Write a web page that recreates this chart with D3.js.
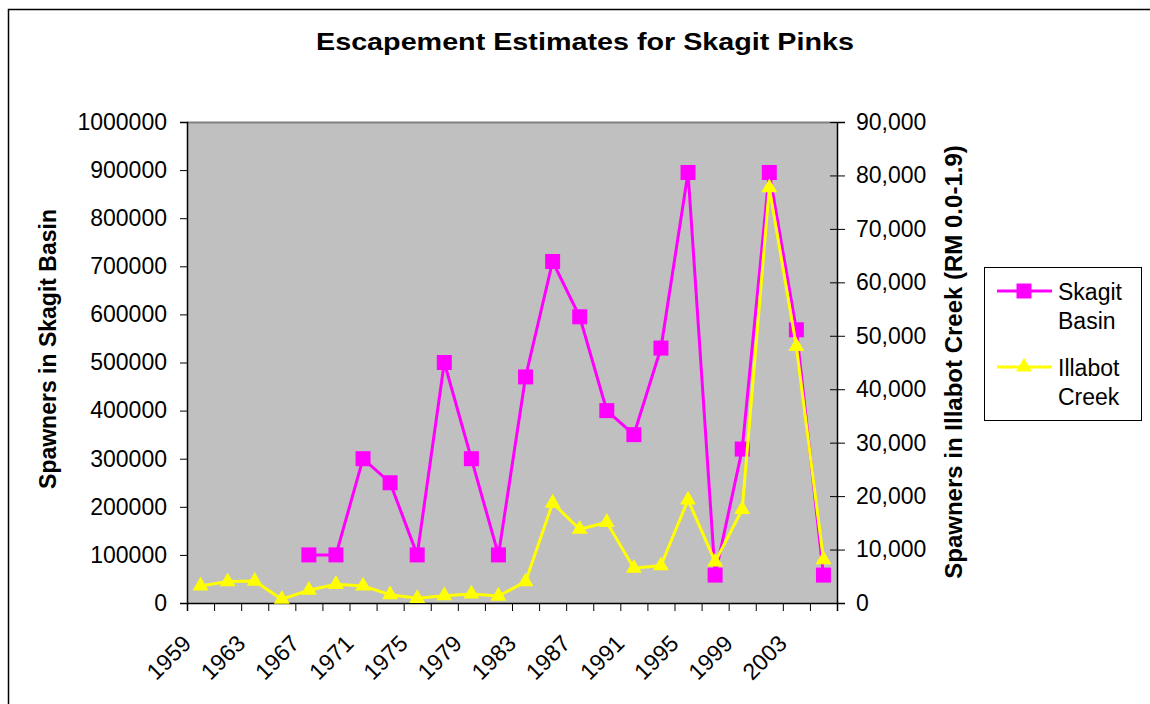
<!DOCTYPE html>
<html>
<head>
<meta charset="utf-8">
<script src="https://cdn.jsdelivr.net/npm/d3@7"></script>
<style>
  body { margin: 0; background: #fff; }
  svg { display: block; }
  text { font-family: "Liberation Sans", Arial, sans-serif; fill: #000; }
</style>
</head>
<body>
<svg id="chart" width="1150" height="704"></svg>
<script>
// Pink salmon run years (odd years only)
const years = [1959, 1961, 1963, 1965, 1967, 1969, 1971, 1973, 1975, 1977, 1979, 1981,
               1983, 1985, 1987, 1989, 1991, 1993, 1995, 1997, 1999, 2001, 2003, 2005];

// Spawners in the Skagit Basin (left axis)
const skagit = [null, null, null, null, 100000, 100000, 300000, 250000, 100000, 500000, 300000, 100000,
                470000, 710000, 595000, 400000, 350000, 530000, 895000, 58000, 320000, 895000, 568000, 58000];

// Spawners in Illabot Creek, RM 0.0-1.9 (right axis)
const illabot = [3200, 4000, 4100, 700, 2400, 3500, 3200, 1550, 870, 1370, 1680, 1300,
                 4000, 18700, 13800, 15100, 6500, 7000, 19300, 7700, 17500, 77700, 48000, 8100];

const leftTicks = [0, 100000, 200000, 300000, 400000, 500000, 600000, 700000, 800000, 900000, 1000000];
const rightTicks = [0, 10000, 20000, 30000, 40000, 50000, 60000, 70000, 80000, 90000];
const yearLabels = years.filter((d, i) => i % 2 === 0);

const seriesNames = ["Skagit Basin", "Illabot Creek"];

const svg = d3.select("#chart");
const plot = { left: 187, right: 837, top: 122, bottom: 603 };

// outer chart frame
svg.append("rect")
  .attr("x", 8.5).attr("y", 9.5)
  .attr("width", 1200).attr("height", 800)
  .attr("fill", "none").attr("stroke", "#000").attr("stroke-width", 1.5);

const x = d3.scaleBand().domain(years).range([plot.left, plot.right]);
const xEdge = d3.scaleLinear().domain([0, years.length]).range([plot.left, plot.right]);
const yL = d3.scaleLinear().domain([0, 1000000]).range([plot.bottom, plot.top]);
const yR = d3.scaleLinear().domain([0, 90000]).range([plot.bottom, plot.top]);

// plot area
svg.append("rect")
  .attr("x", plot.left).attr("y", plot.top)
  .attr("width", plot.right - plot.left).attr("height", plot.bottom - plot.top)
  .attr("fill", "#c0c0c0");
svg.append("line")
  .attr("x1", plot.left).attr("x2", plot.right)
  .attr("y1", plot.top + 0.5).attr("y2", plot.top + 0.5)
  .attr("stroke", "#808080").attr("stroke-width", 2);

// left axis
const gL = svg.append("g")
  .attr("transform", `translate(${plot.left},0)`)
  .call(d3.axisLeft(yL).tickValues(leftTicks).tickFormat(d3.format("d")).tickSize(7).tickPadding(13));
gL.select(".domain").attr("stroke", "#000").attr("stroke-width", 1.5);
gL.selectAll(".tick line").attr("stroke", "#000");
gL.selectAll(".tick text").style("font-size", "23px").attr("fill", "#000");

// right axis (ticks cross the axis line)
const gR = svg.append("g")
  .attr("transform", `translate(${plot.right},0)`)
  .call(d3.axisRight(yR).tickValues(rightTicks).tickFormat(d3.format(",")).tickSize(8).tickPadding(11));
gR.select(".domain").attr("stroke", "#000").attr("stroke-width", 1.5);
gR.selectAll(".tick line").attr("x1", -7).attr("stroke", "#000");
gR.selectAll(".tick text").style("font-size", "23px").attr("fill", "#000");

// bottom axis: ticks on category boundaries
const gB = svg.append("g")
  .attr("transform", `translate(0,${plot.bottom})`)
  .call(d3.axisBottom(xEdge).tickValues(d3.range(years.length + 1)).tickFormat("").tickSize(8));
gB.select(".domain").attr("stroke", "#000").attr("stroke-width", 1.5);
gB.selectAll(".tick line").attr("stroke", "#000");

// rotated year labels on every other category
svg.append("g").selectAll("text")
  .data(yearLabels)
  .join("text")
  .attr("transform", d => `translate(${x(d) + x.bandwidth() / 2 - 8},645) rotate(-45)`)
  .attr("text-anchor", "end")
  .style("font-size", "23px")
  .text(d => d);

// axis titles
svg.append("text")
  .attr("transform", `translate(56,349) rotate(-90)`)
  .attr("text-anchor", "middle")
  .style("font-size", "23px").style("font-weight", "bold")
  .text("Spawners in Skagit Basin");
svg.append("text")
  .attr("transform", `translate(962,362) rotate(-90)`)
  .attr("text-anchor", "middle")
  .style("font-size", "24px").style("font-weight", "bold")
  .text("Spawners in Illabot Creek (RM 0.0-1.9)");

// title
svg.append("text")
  .attr("x", 585).attr("y", 50)
  .attr("text-anchor", "middle")
  .attr("textLength", 538).attr("lengthAdjust", "spacingAndGlyphs")
  .style("font-size", "24px").style("font-weight", "bold")
  .text("Escapement Estimates for Skagit Pinks");

const cx = d => x(d) + x.bandwidth() / 2;
const square = d3.symbol().type(d3.symbolSquare).size(225);
const triangle = d3.symbol().type(d3.symbolTriangle).size(110);

// Skagit Basin series
const skPts = years.map((y, i) => ({ year: y, v: skagit[i] })).filter(d => d.v != null);
svg.append("path")
  .datum(skPts)
  .attr("fill", "none").attr("stroke", "#ff00ff").attr("stroke-width", 3)
  .attr("d", d3.line().x(d => cx(d.year)).y(d => yL(d.v)));
svg.append("g").selectAll("path")
  .data(skPts)
  .join("path")
  .attr("transform", d => `translate(${cx(d.year)},${yL(d.v)})`)
  .attr("d", square)
  .attr("fill", "#ff00ff");

// Illabot Creek series
const ilPts = years.map((y, i) => ({ year: y, v: illabot[i] }));
svg.append("path")
  .datum(ilPts)
  .attr("fill", "none").attr("stroke", "#ffff00").attr("stroke-width", 3)
  .attr("d", d3.line().x(d => cx(d.year)).y(d => yR(d.v)));
svg.append("g").selectAll("path")
  .data(ilPts)
  .join("path")
  .attr("transform", d => `translate(${cx(d.year)},${yR(d.v)})`)
  .attr("d", triangle)
  .attr("fill", "#ffff00");

// legend
const lg = svg.append("g");
lg.append("rect")
  .attr("x", 984.5).attr("y", 267.5).attr("width", 157).attr("height", 153)
  .attr("fill", "#fff").attr("stroke", "#000").attr("stroke-width", 1);
const legendItems = [
  { name: seriesNames[0], color: "#ff00ff", sym: square, y: 291 },
  { name: seriesNames[1], color: "#ffff00", sym: triangle, y: 367 }
];
legendItems.forEach(item => {
  lg.append("line")
    .attr("x1", 997).attr("x2", 1052).attr("y1", item.y).attr("y2", item.y)
    .attr("stroke", item.color).attr("stroke-width", 3);
  lg.append("path")
    .attr("transform", `translate(1024,${item.y})`)
    .attr("d", item.sym).attr("fill", item.color);
  const words = item.name.split(" ");
  const t = lg.append("text").attr("x", 1058).attr("y", item.y + 9).style("font-size", "23px");
  words.forEach((w, i) => {
    t.append("tspan").attr("x", 1058).attr("dy", i === 0 ? 0 : 29).text(w);
  });
});
</script>
</body>
</html>
